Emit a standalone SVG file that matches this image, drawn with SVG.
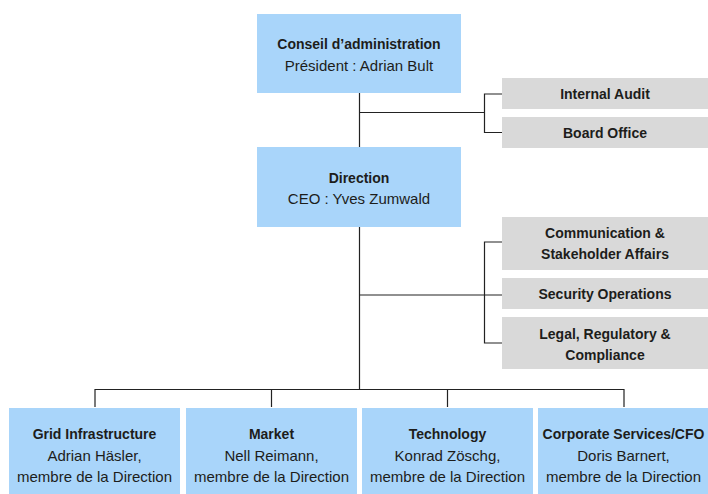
<svg xmlns="http://www.w3.org/2000/svg" width="708" height="494" viewBox="0 0 708 494">
<style>
.blue{fill:#a9d5fa}
.gray{fill:#d9d9d9}
text{font-family:"Liberation Sans",Arial,sans-serif;fill:#1d1d1b;text-anchor:middle}
.b{font-weight:bold;font-size:14px}
.r{font-size:15px}
.ln{fill:none;stroke:#222;stroke-width:1.2}
</style>
<rect width="708" height="494" fill="#fff"/>
<g id="connectors">
<path class="ln" d="M359.5 93V147M359.5 227V389.5"/>
<path class="ln" d="M359.5 112.5H484.5M502 94H484.5V132.5H502"/>
<path class="ln" d="M359.5 295H502M502 242H484.5V343H502"/>
<path class="ln" d="M95 407V389.5H624V407M271.5 389.5V407M447.5 389.5V407"/>
</g>
<g id="conseil">
<rect class="blue" x="257" y="14" width="204" height="79"/>
<text class="b" x="359" y="48.5">Conseil d’administration</text>
<text class="r" x="359" y="71">Président : Adrian Bult</text>
</g>
<g id="direction">
<rect class="blue" x="257" y="147" width="204" height="80"/>
<text class="b" x="359" y="183">Direction</text>
<text class="r" x="359" y="204">CEO : Yves Zumwald</text>
</g>
<g id="internal-audit">
<rect class="gray" x="502" y="78" width="206" height="31"/>
<text class="b" x="605" y="99">Internal Audit</text>
</g>
<g id="board-office">
<rect class="gray" x="502" y="117" width="206" height="31"/>
<text class="b" x="605" y="138">Board Office</text>
</g>
<g id="communication">
<rect class="gray" x="502" y="217" width="206" height="53"/>
<text class="b" x="605" y="237.5">Communication &amp;</text>
<text class="b" x="605" y="259">Stakeholder Affairs</text>
</g>
<g id="security">
<rect class="gray" x="502" y="278" width="206" height="31"/>
<text class="b" x="605" y="299">Security Operations</text>
</g>
<g id="legal">
<rect class="gray" x="502" y="317" width="206" height="52"/>
<text class="b" x="605" y="338.5">Legal, Regulatory &amp;</text>
<text class="b" x="605" y="359.5">Compliance</text>
</g>
<g id="grid">
<rect class="blue" x="9" y="408" width="171" height="86"/>
<text class="b" x="94.5" y="438.5">Grid Infrastructure</text>
<text class="r" x="94.5" y="461">Adrian Häsler,</text>
<text class="r" x="94.5" y="482">membre de la Direction</text>
</g>
<g id="market">
<rect class="blue" x="186" y="408" width="171" height="86"/>
<text class="b" x="271.5" y="438.5">Market</text>
<text class="r" x="271.5" y="461">Nell Reimann,</text>
<text class="r" x="271.5" y="482">membre de la Direction</text>
</g>
<g id="technology">
<rect class="blue" x="362" y="408" width="171" height="86"/>
<text class="b" x="447.5" y="438.5">Technology</text>
<text class="r" x="447.5" y="461">Konrad Zöschg,</text>
<text class="r" x="447.5" y="482">membre de la Direction</text>
</g>
<g id="corporate">
<rect class="blue" x="538" y="408" width="170" height="86"/>
<text class="b" x="623.5" y="438.5">Corporate Services/CFO</text>
<text class="r" x="623.5" y="461">Doris Barnert,</text>
<text class="r" x="623.5" y="482">membre de la Direction</text>
</g>
</svg>
